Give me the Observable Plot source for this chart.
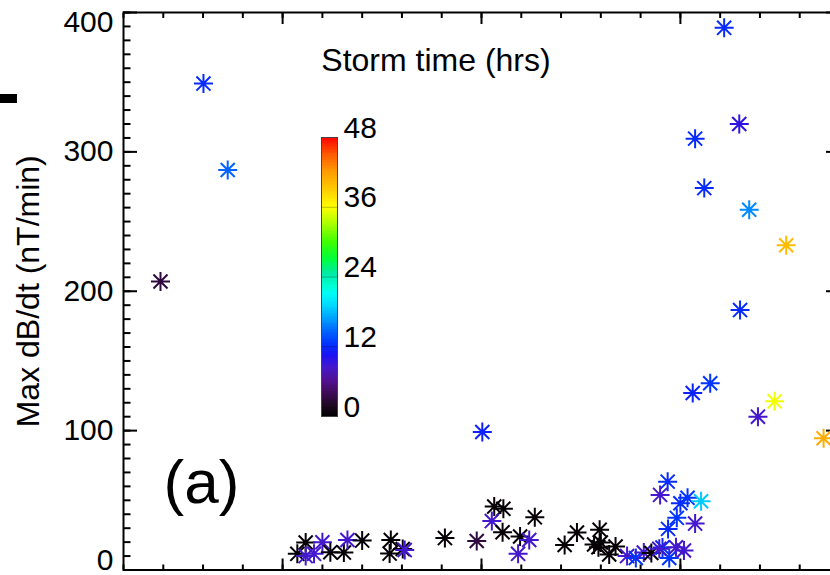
<!DOCTYPE html>
<html>
<head>
<meta charset="utf-8">
<script src="https://cdn.jsdelivr.net/npm/d3@7"></script>
<script src="https://cdn.jsdelivr.net/npm/@observablehq/plot@0.6"></script>
<style>
  html, body { margin: 0; padding: 0; background: #fff; overflow: hidden; }
  #wrap { position: relative; width: 830px; height: 575px; }
  #wrap > svg.main { position: absolute; left: 0; top: 0; }
  #wrap > svg.cbar { position: absolute; left: 300px; top: 100px; }
  #stub { position: absolute; left: 0; top: 94px; width: 17px; height: 9px; background: #000; }
</style>
</head>
<body>
<div id="wrap"><div id="stub"></div></div>
<script>
// Storm events: position along the x axis, peak dB/dt and time into the storm
const eventX = [
  1.93, 3.01, 3.62, 10.02, 16.10, 15.37, 16.48, 15.60, 16.73, 17.66, 16.50, 15.75, 15.31, 17.37, 16.95, 18.60,
  5.37, 5.58, 5.58, 5.79, 6.00, 6.20, 6.54, 6.63, 7.00, 7.72, 7.69, 8.02, 8.07, 9.08, 9.88,
  10.32, 10.55, 10.26, 10.53, 10.97, 11.20, 10.92, 11.34, 12.09, 12.40, 12.97, 12.83, 12.94, 13.00,
  13.37, 13.21, 13.66, 13.88, 14.08, 14.27, 14.68, 14.49, 15.00, 15.18, 15.52, 14.91, 14.69, 15.37,
  14.55, 14.72, 14.89, 15.09, 14.47
];
const maxDbdt = [
  207, 349, 287, 99, 389, 309.5, 320, 274, 258.5, 233, 186.5, 134, 127, 121, 110, 94.5,
  11.6, 19.7, 10.0, 11.6, 19.9, 12.8, 12.5, 21.5, 21.1, 21.5, 11.8, 15.1, 14.3, 22.9, 20.8,
  45.5, 43.9, 35.1, 27.1, 24.0, 21.5, 11.6, 37.8, 17.9, 26.9, 28.8, 18.3, 16.3, 19.7,
  16.8, 11.1, 10.0, 8.6, 12.5, 12.2, 63.4, 53.9, 47.9, 51.8, 49.3, 37.4, 29.5, 33.3,
  16.1, 8.6, 16.3, 14.0, 15.2
];
const stormHours = [
  3, 12, 14.5, 11.5, 12, 12, 9.5, 12, 16, 40, 12, 12.5, 11.5, 35.5, 8.5, 41,
  0.3, 0.3, 8.5, 8.5, 8.5, 0.3, 0.3, 8.5, 0.3, 0.3, 0.3, 0.3, 8.5, 0.3, 3,
  0.3, 0.3, 8.5, 0.3, 0.3, 8.5, 8.5, 0.3, 0.3, 0.3, 0.3, 0.3, 0.3, 0.3,
  0.3, 0.3, 8.5, 12.5, 8.5, 0.3, 12, 8.5, 12, 12.5, 18.5, 12.5, 12, 8.5,
  12, 12.5, 8.5, 8.5, 8.5
];

// Axis ticks
const yMajor = [0, 100, 200, 300, 400];
const yMinor = d3.range(0, 401, 10);
const xMajor = [5, 10, 15];
const xMinor = d3.range(1, 20, 1);
const yLabelsMid = [100, 200, 300];
const cbTicks = [0, 12, 24, 36, 48];

// Rainbow colour table for storm time
const colorStops = [0, 2, 4, 6, 8.5, 10.5, 12.5, 14.5, 16.5, 19, 21, 22.5, 24.5, 27, 30, 33, 36, 39, 42, 45, 48];
const colorRamp = ["#000000", "#200824", "#3e0c58", "#52108e", "#4418cc", "#1a10f4", "#0034ff", "#0062ff",
  "#0098ff", "#00d8ff", "#00fcf8", "#00ffd0", "#00eaa8", "#00ff3c", "#40ff00", "#a8ff00", "#ffff00",
  "#ffcc00", "#ff9c00", "#ff5a00", "#ff0000"];

const events = eventX.map((x, i) => ({x, dbdt: maxDbdt[i], hours: stormHours[i]}));

const colorScale = {type: "linear", domain: colorStops, range: colorRamp, clamp: true};
const font = "'Liberation Sans', Arial, Helvetica, sans-serif";

// Eight-armed asterisk
const asterisk = {
  draw(context, size) {
    const r = Math.sqrt(size / Math.PI);
    const d = r * 0.74;
    context.moveTo(0, -r); context.lineTo(0, r);
    context.moveTo(-r, 0); context.lineTo(r, 0);
    context.moveTo(-d, -d); context.lineTo(d, d);
    context.moveTo(-d, d); context.lineTo(d, -d);
  }
};

const noText = () => "";

const chart = Plot.plot({
  width: 830,
  height: 575,
  marginLeft: 123,
  marginRight: -9,
  marginTop: 12,
  marginBottom: 5.5,
  style: {fontFamily: font, background: "white"},
  x: {domain: [1, 19]},
  y: {domain: [0, 400]},
  color: colorScale,
  marks: [
    // inward ticks on all four sides
    Plot.axisY(yMajor, {anchor: "left", tickSize: -14, strokeWidth: 2, tickFormat: noText, label: null}),
    Plot.axisY(yMinor, {anchor: "left", tickSize: -7.5, strokeWidth: 2, tickFormat: noText, label: null}),
    Plot.axisY(yMajor, {anchor: "right", tickSize: -14, strokeWidth: 2, tickFormat: noText, label: null}),
    Plot.axisY(yMinor, {anchor: "right", tickSize: -7.5, strokeWidth: 2, tickFormat: noText, label: null}),
    Plot.axisX(xMajor, {anchor: "bottom", tickSize: -11, strokeWidth: 2, tickFormat: noText, label: null}),
    Plot.axisX(xMinor, {anchor: "bottom", tickSize: -5, strokeWidth: 2, tickFormat: noText, label: null}),
    Plot.axisX(xMajor, {anchor: "top", tickSize: -11, strokeWidth: 2, tickFormat: noText, label: null}),
    Plot.axisX(xMinor, {anchor: "top", tickSize: -5, strokeWidth: 2, tickFormat: noText, label: null}),
    Plot.frame({stroke: "black", strokeWidth: 2}),
    // y tick labels
    Plot.text(yLabelsMid, {frameAnchor: "left", y: d => d, text: d => `${d}`, textAnchor: "end", lineAnchor: "middle", dx: -10, fontSize: 30, fill: "black"}),
    Plot.text([400], {frameAnchor: "left", y: d => d, text: d => `${d}`, textAnchor: "end", lineAnchor: "top", dx: -10, dy: -2, fontSize: 30, fill: "black"}),
    Plot.text([0], {frameAnchor: "left", y: d => d, text: d => `${d}`, textAnchor: "end", lineAnchor: "bottom", dx: -10, fontSize: 30, fill: "black"}),
    // y axis title
    Plot.text(["Max dB/dt (nT/min)"], {frameAnchor: "left", rotate: -90, dx: -85, textAnchor: "middle", lineAnchor: "bottom", fontSize: 32, fill: "black"}),
    // panel tag and colour bar title
    Plot.text(["(a)"], {frameAnchor: "bottom-left", dx: 40, dy: -67.5, textAnchor: "start", lineAnchor: "bottom", fontSize: 62, fill: "black"}),
    Plot.text(["Storm time (hrs)"], {frameAnchor: "top-left", dx: 312.5, dy: 58, textAnchor: "middle", lineAnchor: "bottom", fontSize: 32, fill: "black"}),
    // events
    Plot.dot(events, {x: "x", y: "dbdt", stroke: "hours", fill: "none", symbol: asterisk, r: 9.5, strokeWidth: 2})
  ]
});
chart.classList.add("main");

// Vertical colour bar for storm time
const cbSteps = d3.range(0, 48, 0.25);
const colorbar = Plot.plot({
  width: 100,
  height: 330,
  marginLeft: 21,
  marginRight: 63,
  marginTop: 37,
  marginBottom: 14,
  style: {fontFamily: font, background: "transparent", overflow: "visible"},
  x: {domain: [0, 1], axis: null},
  y: {domain: [0, 48], axis: null},
  color: colorScale,
  marks: [
    Plot.rect(cbSteps, {x1: 0, x2: 1, y1: d => d, y2: d => d + 0.3, fill: d => d + 0.125, shapeRendering: "crispEdges"}),
    Plot.ruleY([12, 24, 36], {x1: 0, x2: 1, stroke: "black", strokeOpacity: 0.25, strokeWidth: 1}),
    Plot.frame({stroke: "#444", strokeWidth: 1}),
    Plot.text(cbTicks, {x: 1, y: d => d, text: d => `${d}`, textAnchor: "start", lineAnchor: "bottom", dx: 6, fontSize: 30, fill: "black"})
  ]
});
colorbar.classList.add("cbar");

const wrap = document.getElementById("wrap");
wrap.insertBefore(chart, wrap.firstChild);
wrap.appendChild(colorbar);
</script>
</body>
</html>
